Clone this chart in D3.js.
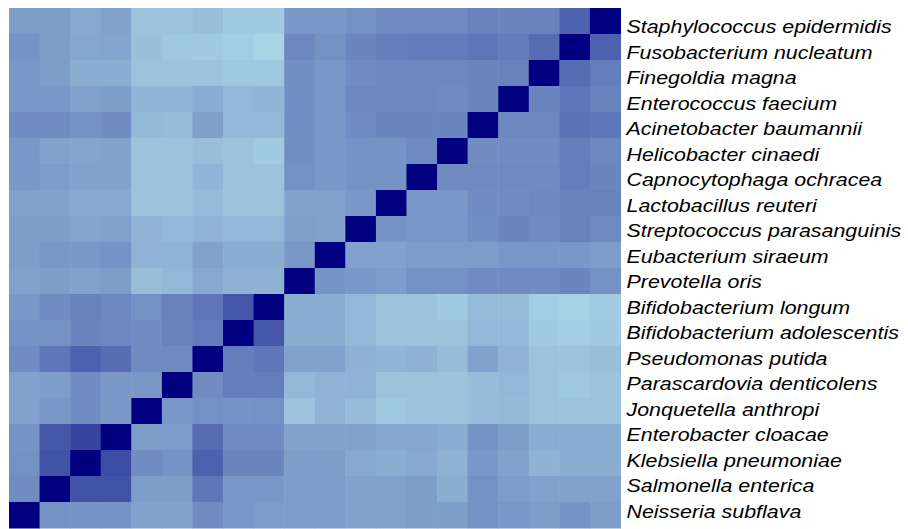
<!DOCTYPE html>
<html>
<head>
<meta charset="utf-8">
<script src="https://cdn.jsdelivr.net/npm/d3@7"></script>
<style>
  html, body { margin: 0; padding: 0; background: #ffffff; }
  svg { display: block; }
  .label { font-family: "Liberation Sans", Arial, sans-serif; font-style: italic; font-size: 18.2px; fill: #000; }
</style>
</head>
<body>
<svg id="chart" width="908" height="529"></svg>
<script>
// Species, listed top to bottom as rows; columns run in the reverse order.
const species = [
  "Staphylococcus epidermidis",
  "Fusobacterium nucleatum",
  "Finegoldia magna",
  "Enterococcus faecium",
  "Acinetobacter baumannii",
  "Helicobacter cinaedi",
  "Capnocytophaga ochracea",
  "Lactobacillus reuteri",
  "Streptococcus parasanguinis",
  "Eubacterium siraeum",
  "Prevotella oris",
  "Bifidobacterium longum",
  "Bifidobacterium adolescentis",
  "Pseudomonas putida",
  "Parascardovia denticolens",
  "Jonquetella anthropi",
  "Enterobacter cloacae",
  "Klebsiella pneumoniae",
  "Salmonella enterica",
  "Neisseria subflava"
];

// Column order (left to right): species reversed.
const columns = species.slice().reverse();

// Pairwise similarity, one row per species; entries follow `columns`.
const similarity = [
  [0.27,0.27,0.22,0.25,0.10,0.10,0.12,0.07,0.07,0.30, 0.30,0.33,0.36,0.36,0.36,0.40,0.38,0.40,0.55,1.00],
  [0.32,0.27,0.23,0.24,0.11,0.08,0.07,0.05,0.02,0.37, 0.33,0.38,0.42,0.43,0.43,0.45,0.43,0.50,1.00,0.55],
  [0.30,0.27,0.20,0.20,0.10,0.10,0.10,0.08,0.08,0.34, 0.30,0.35,0.37,0.37,0.37,0.38,0.40,1.00,0.50,0.42],
  [0.30,0.30,0.25,0.27,0.16,0.16,0.20,0.15,0.16,0.34, 0.30,0.37,0.37,0.37,0.36,0.38,1.00,0.38,0.45,0.40],
  [0.35,0.35,0.32,0.35,0.14,0.13,0.26,0.15,0.15,0.34, 0.30,0.35,0.38,0.38,0.38,1.00,0.37,0.37,0.47,0.45],
  [0.30,0.25,0.24,0.25,0.10,0.10,0.12,0.10,0.07,0.34, 0.30,0.32,0.32,0.36,1.00,0.35,0.35,0.35,0.42,0.37],
  [0.30,0.28,0.25,0.25,0.10,0.10,0.16,0.10,0.10,0.33, 0.30,0.32,0.32,1.00,0.36,0.36,0.36,0.36,0.42,0.38],
  [0.25,0.25,0.22,0.22,0.10,0.10,0.13,0.10,0.10,0.25, 0.25,0.30,1.00,0.30,0.30,0.35,0.35,0.37,0.40,0.40],
  [0.27,0.27,0.24,0.25,0.17,0.15,0.17,0.15,0.15,0.26, 0.25,1.00,0.32,0.30,0.30,0.34,0.38,0.36,0.40,0.36],
  [0.27,0.30,0.30,0.32,0.17,0.17,0.25,0.20,0.20,0.30, 1.00,0.25,0.25,0.28,0.28,0.28,0.30,0.30,0.30,0.28],
  [0.25,0.27,0.25,0.27,0.12,0.15,0.22,0.18,0.18,1.00, 0.32,0.30,0.28,0.33,0.33,0.35,0.35,0.35,0.38,0.33],
  [0.30,0.35,0.40,0.37,0.33,0.40,0.45,0.60,1.00,0.20, 0.20,0.15,0.10,0.10,0.07,0.13,0.13,0.05,0.03,0.06],
  [0.32,0.33,0.38,0.37,0.35,0.40,0.43,1.00,0.60,0.20, 0.20,0.15,0.10,0.10,0.10,0.15,0.15,0.07,0.05,0.07],
  [0.35,0.45,0.55,0.50,0.35,0.36,1.00,0.42,0.45,0.25, 0.25,0.18,0.16,0.18,0.13,0.25,0.17,0.10,0.10,0.12],
  [0.25,0.27,0.35,0.30,0.30,1.00,0.35,0.42,0.42,0.15, 0.17,0.17,0.10,0.10,0.10,0.13,0.15,0.10,0.08,0.10],
  [0.25,0.30,0.35,0.30,1.00,0.30,0.33,0.32,0.33,0.10, 0.17,0.13,0.08,0.10,0.10,0.13,0.14,0.10,0.10,0.10],
  [0.32,0.60,0.68,1.00,0.27,0.28,0.50,0.35,0.35,0.25, 0.25,0.25,0.23,0.23,0.20,0.32,0.27,0.20,0.20,0.20],
  [0.33,0.62,1.00,0.65,0.35,0.32,0.55,0.38,0.38,0.27, 0.27,0.22,0.20,0.22,0.18,0.30,0.25,0.18,0.20,0.20],
  [0.35,1.00,0.62,0.62,0.27,0.27,0.45,0.30,0.30,0.28, 0.28,0.25,0.25,0.27,0.20,0.33,0.28,0.25,0.25,0.25],
  [1.00,0.32,0.32,0.32,0.25,0.25,0.35,0.30,0.28,0.28, 0.28,0.25,0.25,0.27,0.27,0.33,0.30,0.27,0.32,0.27]
];

const svg = d3.select("#chart");

// Heatmap frame
const grid = { left: 9, top: 8, width: 611.5, height: 520 };

const x = d3.scaleBand().domain(columns).range([grid.left, grid.left + grid.width]).padding(0);
const y = d3.scaleBand().domain(species).range([grid.top, grid.top + grid.height]).padding(0);

// The whole figure is drawn with cells wider than tall; labels share that stretch.
const stretch = x.bandwidth() / y.bandwidth();

const color = d3.scaleLinear()
  .domain([0, 1])
  .range(["#ADD8E6", "#000080"])
  .interpolate(d3.interpolateRgb);

const cells = species.flatMap((rowName, r) =>
  columns.map((colName, c) => ({ row: rowName, col: colName, value: similarity[r][c] }))
);

svg.append("g")
  .selectAll("rect")
  .data(cells)
  .join("rect")
  .attr("x", d => x(d.col))
  .attr("y", d => y(d.row))
  .attr("width", x.bandwidth() + 0.5)
  .attr("height", y.bandwidth() + 0.5)
  .attr("fill", d => color(d.value));

// Species names to the right of the grid
const labelY = d3.scalePoint().domain(species).range([33, 517.5]);
const labelX = grid.left + grid.width + 6;

svg.append("g")
  .selectAll("text")
  .data(species)
  .join("text")
  .attr("class", "label")
  .attr("transform", d => `translate(${labelX},${labelY(d)}) scale(${stretch},1)`)
  .text(d => d);
</script>
</body>
</html>
